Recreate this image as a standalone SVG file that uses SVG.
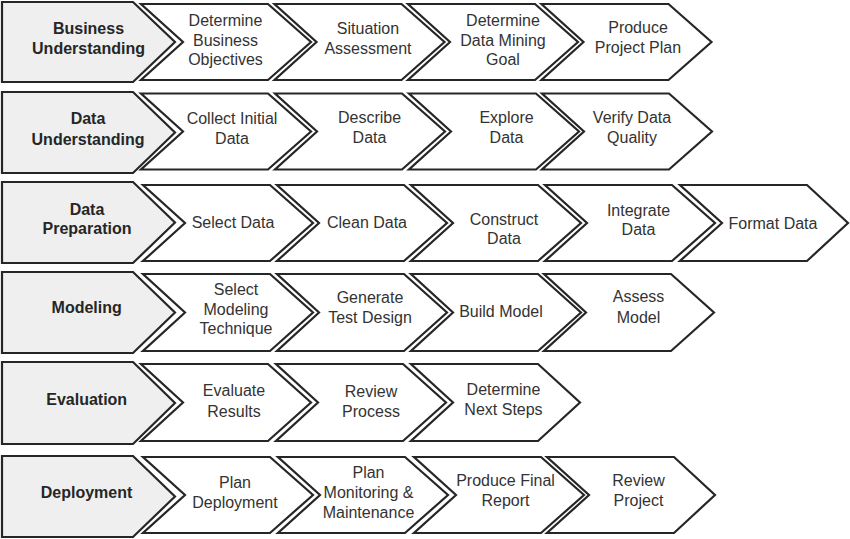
<svg xmlns="http://www.w3.org/2000/svg" width="850" height="539" viewBox="0 0 850 539">
<style>
.hd{fill:#eeefee;stroke:#262626;stroke-width:2.2;stroke-linejoin:miter}
.ch{fill:#ffffff;stroke:#262626;stroke-width:2.2;stroke-linejoin:miter}
.ht{font-family:"Liberation Sans",Arial,sans-serif;font-size:16px;font-weight:bold;fill:#262626;text-anchor:middle}
.ct{font-family:"Liberation Sans",Arial,sans-serif;font-size:16px;fill:#333333;text-anchor:middle}
</style>
<rect width="850" height="539" fill="#ffffff"/>
<g id="connectors"/>

<!-- Row 1 -->
<g id="business-understanding">
<polygon class="hd" points="2,2 133,2 175,42 133,82 2,82"/>
<text class="ht" x="88.5" y="34">Business</text>
<text class="ht" x="88.5" y="54">Understanding</text>
</g>
<g id="determine-business-objectives">
<polygon class="ch" points="141,4 268,4 311,42 268,80 141,80 183,42"/>
<text class="ct" x="225.5" y="26">Determine</text>
<text class="ct" x="225.5" y="45.7">Business</text>
<text class="ct" x="225.5" y="65">Objectives</text>
</g>
<g id="situation-assessment">
<polygon class="ch" points="274.5,4 401.5,4 444.5,42 401.5,80 274.5,80 316.5,42"/>
<text class="ct" x="368" y="34">Situation</text>
<text class="ct" x="368" y="54">Assessment</text>
</g>
<g id="determine-data-mining-goal">
<polygon class="ch" points="408,4 535,4 578,42 535,80 408,80 450,42"/>
<text class="ct" x="503" y="25.5">Determine</text>
<text class="ct" x="503" y="45.7">Data Mining</text>
<text class="ct" x="503" y="65">Goal</text>
</g>
<g id="produce-project-plan">
<polygon class="ch" points="541.5,4 668.5,4 711.5,42 668.5,80 541.5,80 583.5,42"/>
<text class="ct" x="638" y="33.3">Produce</text>
<text class="ct" x="638" y="53.3">Project Plan</text>
</g>

<!-- Row 2 -->
<g id="data-understanding">
<polygon class="hd" points="2,92 133,92 175,132.5 133,173 2,173"/>
<text class="ht" x="88" y="124.3">Data</text>
<text class="ht" x="88" y="145">Understanding</text>
</g>
<g id="collect-initial-data">
<polygon class="ch" points="141,93.5 268,93.5 311,131.5 268,169.5 141,169.5 183,131.5"/>
<text class="ct" x="232" y="124">Collect Initial</text>
<text class="ct" x="232" y="144">Data</text>
</g>
<g id="describe-data">
<polygon class="ch" points="275,93.5 402,93.5 445,131.5 402,169.5 275,169.5 317,131.5"/>
<text class="ct" x="369.5" y="123.3">Describe</text>
<text class="ct" x="369.5" y="143.3">Data</text>
</g>
<g id="explore-data">
<polygon class="ch" points="409,93.5 536,93.5 579,131.5 536,169.5 409,169.5 451,131.5"/>
<text class="ct" x="506.5" y="123.3">Explore</text>
<text class="ct" x="506.5" y="143.3">Data</text>
</g>
<g id="verify-data-quality">
<polygon class="ch" points="542,93.5 669,93.5 712,131.5 669,169.5 542,169.5 584,131.5"/>
<text class="ct" x="632" y="123.3">Verify Data</text>
<text class="ct" x="632" y="143.3">Quality</text>
</g>

<!-- Row 3 -->
<g id="data-preparation">
<polygon class="hd" points="2,182 133,182 175,222.5 133,263 2,263"/>
<text class="ht" x="87" y="215">Data</text>
<text class="ht" x="87" y="234">Preparation</text>
</g>
<g id="select-data">
<polygon class="ch" points="143,185 270,185 313,223 270,261 143,261 185,223"/>
<text class="ct" x="233" y="228.3">Select Data</text>
</g>
<g id="clean-data">
<polygon class="ch" points="277,185 404,185 447,223 404,261 277,261 319,223"/>
<text class="ct" x="367" y="228.3">Clean Data</text>
</g>
<g id="construct-data">
<polygon class="ch" points="411,185 538,185 581,223 538,261 411,261 453,223"/>
<text class="ct" x="504" y="225">Construct</text>
<text class="ct" x="504" y="244">Data</text>
</g>
<g id="integrate-data">
<polygon class="ch" points="545,185 672,185 715,223 672,261 545,261 587,223"/>
<text class="ct" x="638.5" y="215.7">Integrate</text>
<text class="ct" x="638.5" y="235">Data</text>
</g>
<g id="format-data">
<polygon class="ch" points="680,185 807,185 848,223 807,261 680,261 722,223"/>
<text class="ct" x="773" y="229">Format Data</text>
</g>

<!-- Row 4 -->
<g id="modeling">
<polygon class="hd" points="2,272 133,272 175,312.5 133,353 2,353"/>
<text class="ht" x="86.7" y="313.3">Modeling</text>
</g>
<g id="select-modeling-technique">
<polygon class="ch" points="143,274 270,274 313,312.5 270,351 143,351 185,312.5"/>
<text class="ct" x="236" y="295">Select</text>
<text class="ct" x="236" y="315">Modeling</text>
<text class="ct" x="236" y="334">Technique</text>
</g>
<g id="generate-test-design">
<polygon class="ch" points="277,274 404,274 447,312.5 404,351 277,351 319,312.5"/>
<text class="ct" x="370" y="303.3">Generate</text>
<text class="ct" x="370" y="323.3">Test Design</text>
</g>
<g id="build-model">
<polygon class="ch" points="411,274 538,274 581,312.5 538,351 411,351 453,312.5"/>
<text class="ct" x="501" y="316.7">Build Model</text>
</g>
<g id="assess-model">
<polygon class="ch" points="544,274 671,274 714,312.5 671,351 544,351 586,312.5"/>
<text class="ct" x="638.5" y="302.3">Assess</text>
<text class="ct" x="638.5" y="322.7">Model</text>
</g>

<!-- Row 5 -->
<g id="evaluation">
<polygon class="hd" points="2,362 133,362 175,403 133,444 2,444"/>
<text class="ht" x="86.7" y="405">Evaluation</text>
</g>
<g id="evaluate-results">
<polygon class="ch" points="141,364 268,364 311,402.5 268,441 141,441 183,402.5"/>
<text class="ct" x="234" y="396">Evaluate</text>
<text class="ct" x="234" y="416.7">Results</text>
</g>
<g id="review-process">
<polygon class="ch" points="276,364 403,364 446,402.5 403,441 276,441 318,402.5"/>
<text class="ct" x="371" y="396.7">Review</text>
<text class="ct" x="371" y="416.7">Process</text>
</g>
<g id="determine-next-steps">
<polygon class="ch" points="411,364 538,364 580,402.5 538,441 411,441 453,402.5"/>
<text class="ct" x="503.5" y="395">Determine</text>
<text class="ct" x="503.5" y="415">Next Steps</text>
</g>

<!-- Row 6 -->
<g id="deployment">
<polygon class="hd" points="2,456 133,456 175,496.5 133,537 2,537"/>
<text class="ht" x="86.5" y="497.7">Deployment</text>
</g>
<g id="plan-deployment">
<polygon class="ch" points="143,457 270,457 313,495 270,533 143,533 185,495"/>
<text class="ct" x="235" y="488.3">Plan</text>
<text class="ct" x="235" y="508.3">Deployment</text>
</g>
<g id="plan-monitoring-maintenance">
<polygon class="ch" points="278,457 405,457 448,495 405,533 278,533 320,495"/>
<text class="ct" x="368.5" y="478.3">Plan</text>
<text class="ct" x="368.5" y="498.3">Monitoring &amp;</text>
<text class="ct" x="368.5" y="518.3">Maintenance</text>
</g>
<g id="produce-final-report">
<polygon class="ch" points="414,457 541,457 584,495 541,533 414,533 456,495"/>
<text class="ct" x="505.5" y="486">Produce Final</text>
<text class="ct" x="505.5" y="506">Report</text>
</g>
<g id="review-project">
<polygon class="ch" points="547,457 674,457 715,495 674,533 547,533 589,495"/>
<text class="ct" x="638.5" y="486">Review</text>
<text class="ct" x="638.5" y="506">Project</text>
</g>
</svg>
